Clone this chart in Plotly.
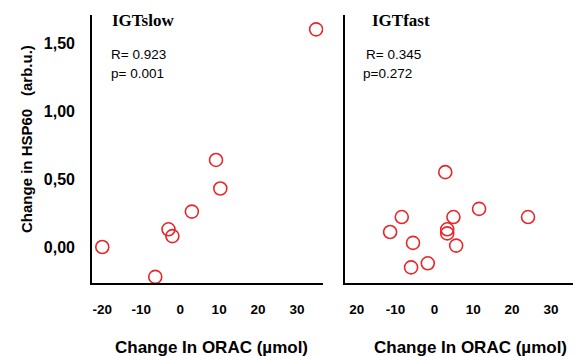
import plotly.graph_objects as go

slow_x = [-20, -6.4, -3, -2, 3, 10.3, 9.2, 34.9]
slow_y = [0.0, -0.22, 0.13, 0.08, 0.26, 0.43, 0.64, 1.60]
fast_x = [2.8, -8.4, -11.4, -5.5, -6, -1.7, 3.3, 3.3, 4.9, 5.6, 11.5, 24.1]
fast_y = [0.55, 0.22, 0.11, 0.03, -0.15, -0.12, 0.13, 0.10, 0.22, 0.01, 0.28, 0.22]

y_ticks = [0, 0.5, 1.0, 1.5]
y_ticktext = ["0,00", "0,50", "1,00", "1,50"]
x_ticks = [-20, -10, 0, 10, 20, 30]
x_ticktext_left = ["-20", "-10", "0", "10", "20", "30"]
x_ticktext_right = ["20", "-10", "0", "10", "20", "30"]

SANS = "Liberation Sans, Arial"
SERIF = "Liberation Serif, Times New Roman"
marker = dict(symbol="circle-open", size=13, color="#e8262a", line=dict(width=1.6, color="#e8262a"))
xtickfont = dict(family=SANS, size=13.5, color="black", weight="bold")
ytickfont = dict(family=SANS, size=16, color="black", weight="bold")

fig = go.Figure()
fig.add_trace(go.Scatter(x=slow_x, y=slow_y, mode="markers", marker=marker, xaxis="x", yaxis="y", showlegend=False))
fig.add_trace(go.Scatter(x=fast_x, y=fast_y, mode="markers", marker=marker, xaxis="x2", yaxis="y2", showlegend=False))

yd = [0.205, 0.958]
yr = [-0.265, 1.706]
fig.update_layout(
    width=576, height=356,
    margin=dict(l=0, r=0, t=0, b=0),
    paper_bgcolor="white", plot_bgcolor="white",
    xaxis=dict(domain=[0.16, 0.561], range=[-22.6, 36.7], tickvals=x_ticks, ticktext=x_ticktext_left,
               showgrid=False, zeroline=False, showline=True, linecolor="black", linewidth=2,
               ticks="", ticklabelstandoff=13, tickfont=xtickfont, anchor="y"),
    yaxis=dict(domain=yd, range=yr, tickvals=y_ticks, ticktext=y_ticktext,
               showgrid=False, zeroline=False, showline=True, linecolor="black", linewidth=2,
               ticks="", ticklabelstandoff=12, tickfont=ytickfont, anchor="x"),
    xaxis2=dict(domain=[0.599, 0.995], range=[-23, 35.7], tickvals=x_ticks, ticktext=x_ticktext_right,
                showgrid=False, zeroline=False, showline=True, linecolor="black", linewidth=2,
                ticks="", ticklabelstandoff=13, tickfont=xtickfont, anchor="y2"),
    yaxis2=dict(domain=yd, range=yr, showticklabels=False,
                showgrid=False, zeroline=False, showline=True, linecolor="black", linewidth=2,
                ticks="", anchor="x2"),
)

ann = []
ann.append(dict(x=110, y=21, text="<b>IGTslow</b>", font=dict(family=SERIF, size=17)))
ann.append(dict(x=370, y=21, text="<b>IGTfast</b>", font=dict(family=SERIF, size=17)))
ann.append(dict(x=109, y=55, text="R= 0.923", font=dict(family=SANS, size=13.5)))
ann.append(dict(x=109, y=73, text="p= 0.001", font=dict(family=SANS, size=13.5)))
ann.append(dict(x=364, y=55, text="R= 0.345", font=dict(family=SANS, size=13.5)))
ann.append(dict(x=361, y=73, text="p=0.272", font=dict(family=SANS, size=13.5)))
for a in ann:
    a.update(xref="paper", yref="paper", showarrow=False, xanchor="left", yanchor="middle")
    a["x"] = a["x"] / 576
    a["y"] = 1 - a["y"] / 356
    a["font"]["color"] = "black"
    fig.add_annotation(**a)

xtitle_font = dict(family=SANS, size=17, color="black")
for cx in (211, 470):
    fig.add_annotation(x=cx/576, y=1-347/356, xref="paper", yref="paper", showarrow=False,
                       xanchor="center", yanchor="middle",
                       text="<b>Change In ORAC (µmol)</b>", font=xtitle_font)
ytitle_font = dict(family=SANS, size=15, color="black")
fig.add_annotation(x=26/576, y=1-171/356, xref="paper", yref="paper", showarrow=False, textangle=-90,
                   xanchor="center", yanchor="middle",
                   text="<b>Change in HSP60</b>", font=ytitle_font)
fig.add_annotation(x=26/576, y=1-71/356, xref="paper", yref="paper", showarrow=False, textangle=-90,
                   xanchor="center", yanchor="middle",
                   text="<b>(arb.u.)</b>", font=ytitle_font)

fig.write_html("out.html", config={"displayModeBar": False},
               post_script="document.body.style.margin='0';document.body.style.padding='0';")
